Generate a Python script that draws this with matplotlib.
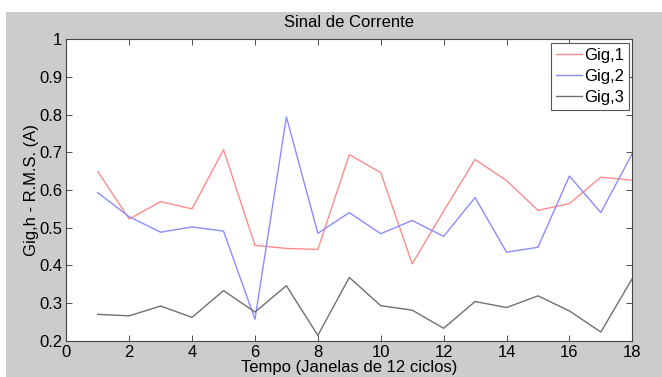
import matplotlib
matplotlib.use("Agg")
import matplotlib.pyplot as plt
from matplotlib.patches import Rectangle


plt.rcParams["font.family"] = ["Liberation Sans", "DejaVu Sans"]

janelas = list(range(1, 19))
gig1 = [0.649, 0.523, 0.569, 0.550, 0.707, 0.453, 0.445, 0.442, 0.694,
        0.646, 0.404, 0.544, 0.681, 0.625, 0.546, 0.564, 0.634, 0.626]
gig2 = [0.593, 0.529, 0.488, 0.502, 0.491, 0.257, 0.794, 0.485, 0.540,
        0.484, 0.519, 0.477, 0.580, 0.435, 0.448, 0.637, 0.540, 0.697]
gig3 = [0.270, 0.266, 0.292, 0.262, 0.333, 0.276, 0.346, 0.214, 0.368,
        0.293, 0.281, 0.233, 0.304, 0.288, 0.319, 0.279, 0.223, 0.365]
series_labels = ["Gig,1", "Gig,2", "Gig,3"]

x_ticks = list(range(0, 19, 2))
y_ticks = [0.2, 0.3, 0.4, 0.5, 0.6, 0.7, 0.8, 0.9, 1.0]
y_tick_labels = ["0.2", "0.3", "0.4", "0.5", "0.6", "0.7", "0.8", "0.9", "1"]


def main():
    fig = plt.figure(figsize=(6.62, 3.77), dpi=100)
    fig.patch.set_facecolor("white")
    # gray matlab-like figure area, with a thin white border top/left
    bg = Rectangle((6 / 662, 0), 1 - 6 / 662, 1 - 12 / 377,
                   transform=fig.transFigure, facecolor="#cccccc",
                   edgecolor="none", zorder=-10)
    fig.add_artist(bg)

    ax = fig.add_axes([66.3 / 662, 1 - 340.7 / 377, (632.3 - 66.3) / 662, (340.7 - 39.3) / 377])
    ax.set_facecolor("white")

    ax.plot(janelas, gig1, color="#ff8c8c", lw=1.0, label=series_labels[0])
    ax.plot(janelas, gig2, color="#8c8cff", lw=1.0, label=series_labels[1])
    ax.plot(janelas, gig3, color="#707070", lw=1.0, label=series_labels[2])

    ax.set_xlim(0, 18)
    ax.set_ylim(0.2, 1.0)
    ax.set_xticks(x_ticks)
    ax.set_yticks(y_ticks)
    ax.set_yticklabels(y_tick_labels)
    ax.tick_params(direction="in", length=4, width=0.6, top=True, right=True,
                   labelsize=12, colors="#333333", labelcolor="black", pad=3)
    for sp in ax.spines.values():
        sp.set_linewidth(0.8)
        sp.set_color("#444444")

    ax.set_title("Sinal de Corrente", fontsize=12, pad=9)
    ax.set_xlabel("Tempo (Janelas de 12 ciclos)", fontsize=12, labelpad=0)
    ax.set_ylabel("Gig,h - R.M.S. (A)", fontsize=12, labelpad=0)

    leg = ax.legend(loc="upper right", fontsize=12, handlelength=1.6,
                    handletextpad=0.1, borderpad=0.3, labelspacing=0.38,
                    borderaxespad=0.2, fancybox=False, framealpha=1)
    leg.get_frame().set_edgecolor("#555555")
    leg.get_frame().set_linewidth(0.8)

    fig.savefig("out.png", dpi=100)
    plt.close(fig)


if __name__ == "__main__":
    main()
